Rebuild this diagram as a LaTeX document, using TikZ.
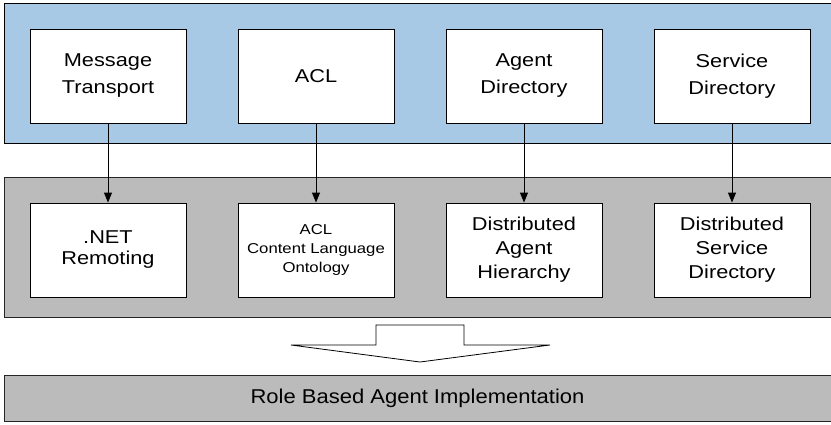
\documentclass[tikz,border=0pt]{standalone}
\usepackage{fontspec}
\setmainfont{Liberation Sans}[FakeStretch=1.17]
\newfontfamily\barfont{Liberation Sans}[FakeStretch=1.1]
\usetikzlibrary{arrows.meta}
\definecolor{layerblue}{RGB}{168,201,230}
\definecolor{layergray}{RGB}{187,187,187}
\tikzset{
  layer/.style={draw=black, line width=1pt},
  comp/.style={draw=black, fill=white, line width=0.9pt, minimum width=156pt,
    minimum height=94pt, inner sep=0pt, align=center},
  bigtext/.style={font=\fontsize{18.6}{27}\selectfont},
  midtext/.style={font=\fontsize{18.6}{24}\selectfont},
  smalltext/.style={font=\fontsize{14.3}{19}\selectfont},
  link/.style={line width=1pt, -{Triangle[length=10pt,width=8pt]}},
}
\begin{document}
\begin{tikzpicture}[x=1pt, y=-1pt]
\useasboundingbox (0,0) rectangle (831,424);
% layer panels
\filldraw[layer, fill=layerblue] (4,3) rectangle (834,143);
\filldraw[layer, fill=layergray, draw=black!85] (4,177) rectangle (834,317);
\filldraw[layer, fill=layergray, draw=black!85] (4,375) rectangle (834,421);
% specification components
\node[comp, bigtext] (mt) at (108,76) {Message\\Transport};
\node[comp, bigtext] (acl) at (316,76) {ACL};
\node[comp, bigtext] (ad) at (524,76) {Agent\\Directory};
\node[comp, bigtext] (sd) at (732,76) {Service\\Directory};
% implementation components
\node[comp, font=\fontsize{18.6}{21}\selectfont] (net) at (108,250) {.NET\\Remoting};
\node[comp, smalltext] (acli) at (316,250) {ACL\\Content Language\\Ontology};
\node[comp, midtext] (dah) at (524,250) {Distributed\\Agent\\Hierarchy};
\node[comp, midtext] (dsd) at (732,250) {Distributed\\Service\\Directory};
% mappings
\draw[link] (mt) -- (net);
\draw[link] (acl) -- (acli);
\draw[link] (ad) -- (dah);
\draw[link] (sd) -- (dsd);
% block arrow
\filldraw[draw=black, fill=white, line width=0.8pt, line join=miter]
  (376,325) -- (464,325) -- (464,345) -- (550,345) -- (420,362)
  -- (291,345) -- (376,345) -- cycle;
\node[font=\barfont\fontsize{20}{24}\selectfont] (rba) at (417.5,398)
  {Role Based Agent Implementation};
\end{tikzpicture}
\end{document}
